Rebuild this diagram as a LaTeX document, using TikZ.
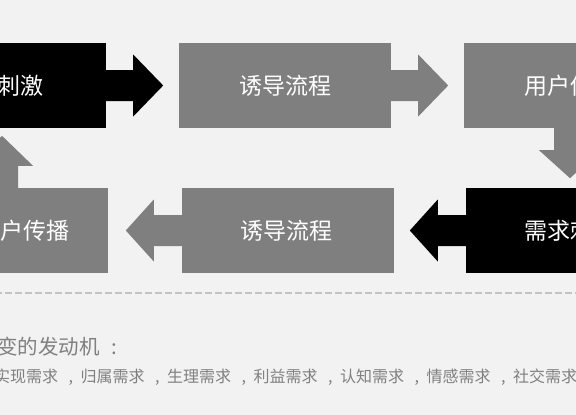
\documentclass[tikz,border=0pt]{standalone}
\usepackage{fontspec}
\newfontfamily\cjk{Noto Sans CJK SC}
\usetikzlibrary{calc}
\definecolor{bg}{HTML}{F2F2F2}
\definecolor{boxgray}{HTML}{7F7F7F}
\definecolor{dashgray}{HTML}{C3C3C3}
\definecolor{txtgray}{HTML}{808080}
\newcommand\sepc{\makebox[22.5pt][l]{\hspace{10.5pt},}}
\begin{document}
\begin{tikzpicture}[x=1pt,y=-1pt,
  box/.style={minimum width=212pt, minimum height=85pt, inner sep=0pt, text=white,
    font=\cjk\fontsize{23pt}{23pt}\selectfont},
  graybox/.style={box, fill=boxgray},
  blackbox/.style={box, fill=black},
  caption/.style={anchor=west, inner sep=0pt, text=txtgray}]
\useasboundingbox (0,0) rectangle (576,415);
\clip (0,0) rectangle (576,415);
\fill[bg] (0,0) rectangle (576,415);

% boxes
\node[blackbox] (b1) at (0,85.5) {\hspace*{42pt}刺激};
\node[graybox] (b2) at (285,85.5) {诱导流程};
\node[graybox] (b3) at (570,85.5) {用户传\hspace*{23pt}};
\node[blackbox] (b4) at (572,230.5) {需求刺\hspace*{27pt}};
\node[graybox] (b5) at (288,230.5) {诱导流程\hspace*{4pt}};
\node[graybox] (b6) at (2,230.5) {\hspace*{66pt}户传播};

% block arrows
\fill[black] ($(b1.east)+(0,-15.5)$) -- ++(27,0) -- ++(0,-15.5) -- ++(30,31) -- ++(-30,31) -- ++(0,-15.5) -- ++(-27,0) -- cycle;
\fill[boxgray] ($(b2.east)+(0,-15.5)$) -- ++(27,0) -- ++(0,-15.5) -- ++(30,31) -- ++(-30,31) -- ++(0,-15.5) -- ++(-27,0) -- cycle;
\fill[boxgray] ($(b3.south)+(-16,0)$) -- ++(0,22) -- ++(-15,0) -- ++(31,28) -- ++(31,-28) -- ++(-15,0) -- ++(0,-22) -- cycle;
\fill[black] ($(b4.west)+(0,-15.5)$) -- ++(-28,0) -- ++(0,-15.5) -- ++(-28,31) -- ++(28,31) -- ++(0,-15.5) -- ++(28,0) -- cycle;
\fill[boxgray] ($(b5.west)+(0,-15.5)$) -- ++(-28,0) -- ++(0,-15.5) -- ++(-28,31) -- ++(28,31) -- ++(0,-15.5) -- ++(28,0) -- cycle;
\fill[boxgray] ($(b6.north)+(-16,0)$) -- ++(0,-22) -- ++(-15,0) -- ++(31,-30) -- ++(31,30) -- ++(-15,0) -- ++(0,22) -- cycle;

% separator
\coordinate (sepL) at (-5,293);
\coordinate (sepR) at (585,293);
\draw[dashgray, line width=2pt, dash pattern=on 7pt off 3pt] (sepL) -- (sepR);

% captions
\node[caption, font=\cjk\fontsize{20.5pt}{20.5pt}\selectfont] (h1) at (-3,346.5) {变的发动机\hspace{12pt}:};
\node[caption, font=\cjk\fontsize{16pt}{16pt}\selectfont] (h2) at (-6,377.5) {实现需求\sepc 归属需求\sepc 生理需求\sepc 利益需求\sepc 认知需求\sepc 情感需求\sepc 社交需求};
\end{tikzpicture}
\end{document}
